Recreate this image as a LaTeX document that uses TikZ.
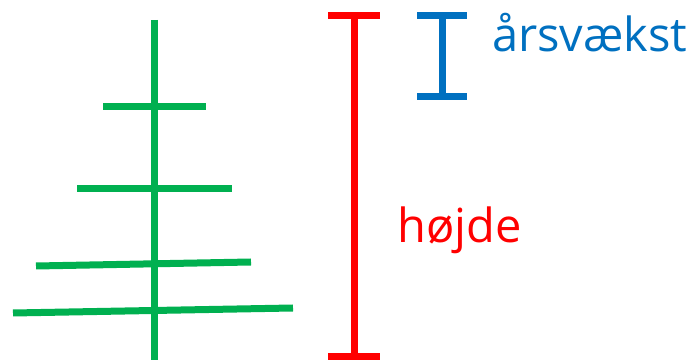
\documentclass[tikz,border=0pt]{standalone}
\usepackage{fontspec}
\setmainfont{Open Sans}
\definecolor{treegreen}{RGB}{0, 176, 80}
\definecolor{heightred}{RGB}{255, 0, 0}
\definecolor{growthblue}{RGB}{0, 112, 192}

\begin{document}
\begin{tikzpicture}[x=1pt, y=-1pt,
    bar/.style={line width=7pt},
    label/.style={inner sep=0pt, anchor=base west, font=\fontsize{47}{50}\selectfont}]
    \useasboundingbox (0,0) rectangle (697,363);

    % Tree
    \draw[bar, treegreen] (154,20) -- (154,360);
    \draw[bar, treegreen] (103,107) -- (206,107);
    \draw[bar, treegreen] (77,189) -- (232,189);
    \draw[bar, treegreen] (36,266) -- (251,262);
    \draw[bar, treegreen] (13,313) -- (293,308);

    % Height
    \coordinate (htop) at (354,16);
    \coordinate (hbot) at (354,357);
    \draw[bar, heightred] (htop) -- (hbot);
    \draw[bar, heightred] ([xshift=-26pt]htop) -- ([xshift=26pt]htop);
    \draw[bar, heightred] ([xshift=-26pt]hbot) -- ([xshift=26pt]hbot);
    \node[label, text=heightred] (hlabel) at (397,243) {højde};

    % Annual growth
    \coordinate (gtop) at (442,16);
    \coordinate (gbot) at (442,96.5);
    \draw[bar, growthblue] (gtop) -- (gbot);
    \draw[bar, growthblue] ([xshift=-25pt]gtop) -- ([xshift=25pt]gtop);
    \draw[bar, growthblue] ([xshift=-25pt]gbot) -- ([xshift=25pt]gbot);
    \node[label, text=growthblue] (glabel) at (492,52) {årsvækst};
\end{tikzpicture}
\end{document}
